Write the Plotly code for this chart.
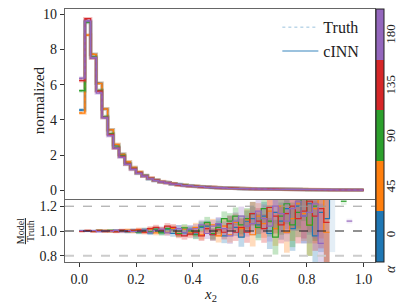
import plotly.graph_objects as go

# ---------------- data ----------------
bin_edges = [0.00, 0.02, 0.04, 0.06, 0.08, 0.10, 0.12, 0.14, 0.16, 0.18,
             0.20, 0.22, 0.24, 0.26, 0.28, 0.30, 0.32, 0.34, 0.36, 0.38,
             0.40, 0.42, 0.44, 0.46, 0.48, 0.50, 0.52, 0.54, 0.56, 0.58,
             0.60, 0.62, 0.64, 0.66, 0.68, 0.70, 0.72, 0.74, 0.76, 0.78,
             0.80, 0.82, 0.84, 0.86, 0.88, 0.90, 0.92, 0.94, 0.96, 0.98, 1.00]

alphas = [0, 45, 90, 135, 180]
alpha_labels = ["0", "45", "90", "135", "180"]

truth_0 = [4.55, 9.60, 7.70, 6.10, 4.60, 3.45, 2.55, 2.05, 1.60, 1.28,
           1.02, 0.83, 0.68, 0.57, 0.49, 0.43, 0.37, 0.32, 0.28, 0.25,
           0.22, 0.195, 0.175, 0.155, 0.140, 0.125, 0.112, 0.100, 0.090, 0.082,
           0.074, 0.067, 0.061, 0.055, 0.050, 0.046, 0.042, 0.038, 0.035, 0.032,
           0.029, 0.026, 0.024, 0.021, 0.019, 0.017, 0.015, 0.013, 0.012, 0.010]
truth_45 = [4.40, 8.80, 7.75, 6.05, 4.60, 3.45, 2.60, 2.05, 1.60, 1.30,
            1.03, 0.84, 0.68, 0.57, 0.49, 0.42, 0.37, 0.32, 0.28, 0.25,
            0.22, 0.196, 0.176, 0.156, 0.140, 0.126, 0.113, 0.101, 0.091, 0.082,
            0.075, 0.068, 0.061, 0.056, 0.051, 0.046, 0.042, 0.038, 0.034, 0.031,
            0.028, 0.026, 0.023, 0.021, 0.019, 0.017, 0.015, 0.013, 0.012, 0.010]
truth_90 = [5.65, 9.50, 7.60, 5.65, 4.20, 3.20, 2.45, 1.95, 1.50, 1.22,
            0.98, 0.81, 0.66, 0.55, 0.48, 0.42, 0.36, 0.32, 0.28, 0.25,
            0.22, 0.194, 0.174, 0.155, 0.139, 0.124, 0.111, 0.099, 0.089, 0.081,
            0.073, 0.066, 0.060, 0.055, 0.050, 0.045, 0.041, 0.037, 0.034, 0.031,
            0.028, 0.025, 0.023, 0.021, 0.019, 0.017, 0.015, 0.013, 0.011, 0.010]
truth_135 = [6.25, 9.70, 7.55, 5.60, 4.15, 3.15, 2.40, 1.90, 1.48, 1.20,
             0.97, 0.80, 0.66, 0.55, 0.47, 0.41, 0.36, 0.31, 0.27, 0.24,
             0.215, 0.192, 0.172, 0.153, 0.138, 0.124, 0.111, 0.099, 0.089, 0.080,
             0.073, 0.066, 0.060, 0.054, 0.049, 0.045, 0.041, 0.037, 0.034, 0.031,
             0.028, 0.025, 0.023, 0.021, 0.018, 0.016, 0.014, 0.013, 0.011, 0.010]
truth_180 = [6.35, 9.65, 7.50, 5.55, 4.10, 3.10, 2.38, 1.88, 1.46, 1.18,
             0.96, 0.79, 0.65, 0.54, 0.47, 0.41, 0.35, 0.31, 0.27, 0.24,
             0.214, 0.191, 0.171, 0.152, 0.137, 0.123, 0.110, 0.098, 0.088, 0.080,
             0.072, 0.065, 0.059, 0.054, 0.049, 0.044, 0.040, 0.037, 0.033, 0.030,
             0.027, 0.025, 0.022, 0.020, 0.018, 0.016, 0.014, 0.012, 0.011, 0.010]

ratio_0 = [1.002, 0.998, 1.003, 0.997, 1.004, 0.996, 1.005, 1.003, 0.995, 1.006,
           0.990, 1.008, 0.985, 1.012, 0.990, 1.015, 0.980, 1.020, 0.985, 1.010,
           0.975, 1.030, 1.040, 0.970, 1.050, 0.960, 1.060, 1.030, 0.950, 1.080,
           1.100, 1.050, 1.120, 0.980, 1.150, 1.080, 1.180, 1.020, 1.200, 1.120,
           1.220, 0.960, 1.150, 1.100, 1.300, None, None, None, None, None]
ratio_45 = [0.997, 1.003, 0.996, 1.004, 1.006, 0.995, 1.004, 0.996, 1.008, 0.994,
            1.012, 0.990, 1.015, 0.985, 1.010, 0.990, 1.020, 0.980, 1.015, 0.990,
            1.030, 0.970, 1.020, 1.050, 0.960, 1.040, 0.970, 1.070, 1.020, 1.090,
            0.970, 1.120, 1.060, 1.160, 1.020, 1.200, 0.990, 1.100, 1.220, 1.140,
            1.050, 1.180, 1.260, 0.990, None, None, None, None, None, None]
ratio_90 = [1.001, 1.004, 0.997, 1.005, 0.996, 1.006, 0.997, 1.004, 0.996, 1.003,
            0.990, 1.010, 0.995, 1.015, 0.985, 1.020, 1.010, 0.980, 1.025, 1.000,
            0.970, 1.040, 1.070, 0.980, 1.030, 1.100, 1.080, 1.120, 1.050, 1.100,
            1.140, 1.030, 1.180, 1.080, 0.950, 1.120, 1.220, 1.050, 1.150, 1.300,
            1.048, 1.200, None, None, None, None, 1.240, None, None, None]
ratio_135 = [0.996, 1.005, 0.994, 1.006, 0.995, 1.004, 0.993, 1.007, 0.996, 1.005,
             1.010, 0.990, 1.020, 1.030, 1.010, 1.040, 1.030, 0.970, 0.960, 0.975,
             0.990, 0.960, 1.020, 0.970, 1.010, 0.990, 1.060, 0.990, 1.030, 0.990,
             1.140, 1.080, 1.020, 1.190, 1.120, 1.050, 1.140, 1.200, 1.100, 1.160,
             1.240, 1.120, 1.180, 1.070, None, None, None, None, None, None]
ratio_180 = [1.003, 0.996, 1.004, 0.995, 1.003, 0.997, 1.005, 0.994, 1.004, 0.997,
             0.995, 1.010, 0.990, 1.005, 1.015, 0.985, 1.010, 1.020, 0.990, 1.015,
             1.020, 1.050, 0.980, 1.040, 1.060, 1.020, 0.960, 1.080, 1.120, 1.040,
             1.060, 1.160, 1.100, 1.040, 1.200, 1.140, 1.080, 1.180, 1.240, 1.120,
             1.150, 1.220, 0.900, None, None, None, None, 1.080, None, None]

ratio_err = [0.008, 0.006, 0.007, 0.008, 0.009, 0.010, 0.011, 0.012, 0.013, 0.014,
             0.015, 0.016, 0.018, 0.020, 0.022, 0.024, 0.026, 0.028, 0.030, 0.033,
             0.036, 0.040, 0.044, 0.048, 0.053, 0.058, 0.064, 0.070, 0.077, 0.085,
             0.095, 0.105, 0.115, 0.125, 0.140, 0.150, 0.165, 0.180, 0.200, 0.220,
             0.250, 0.280, 0.320, 0.360, 0.470, 0.500, 0.030, 0.020, 0.500, 0.500]

truths = [truth_0, truth_45, truth_90, truth_135, truth_180]
ratios = [ratio_0, ratio_45, ratio_90, ratio_135, ratio_180]

colors = ["#1f77b4", "#ff7f0e", "#2ca02c", "#d62728", "#9467bd"]
rgba = [(31, 119, 180), (255, 127, 14), (44, 160, 44), (214, 39, 40), (148, 103, 189)]


def step_xy(vals):
    xs, ys = [], []
    for i, v in enumerate(vals):
        if v is None:
            xs.append(None)
            ys.append(None)
            continue
        xs += [bin_edges[i], bin_edges[i + 1]]
        ys += [v, v]
    return xs, ys


fig = go.Figure()
FONT = "Liberation Serif"
TXT = "#222"

centers = [(bin_edges[i] + bin_edges[i + 1]) / 2 for i in range(len(bin_edges) - 1)]

for k in range(len(alphas)):
    r, g, b = rgba[k]
    tr = truths[k]
    ra = ratios[k]
    model = [t * q if q is not None else t for t, q in zip(tr, ra)]
    # top panel
    xs, ys = step_xy(model)
    fig.add_trace(go.Scatter(x=xs, y=ys, mode="lines", xaxis="x", yaxis="y",
                             line=dict(color=f"rgba({r},{g},{b},0.3)", width=3.5),
                             showlegend=False, hoverinfo="skip"))
    xs, ys = step_xy(tr)
    fig.add_trace(go.Scatter(x=xs, y=ys, mode="lines", xaxis="x", yaxis="y",
                             line=dict(color=colors[k], width=1, dash="dot"),
                             showlegend=False, hoverinfo="skip"))
    xs, ys = step_xy(model)
    fig.add_trace(go.Scatter(x=xs, y=ys, mode="lines", xaxis="x", yaxis="y",
                             line=dict(color=colors[k], width=1.3),
                             showlegend=False, hoverinfo="skip"))
    # ratio panel bands
    bx, bb, bh, bc = [], [], [], []
    for i, q in enumerate(ra):
        if q is None:
            continue
        bx.append(centers[i])
        bb.append(q - ratio_err[i])
        bh.append(2 * ratio_err[i])
        op = 0.28 if i < 44 else 0.12
        bc.append(f"rgba({r},{g},{b},{op})")
    fig.add_trace(go.Bar(x=bx, y=bh, base=bb, width=0.02, xaxis="x2", yaxis="y2",
                         marker=dict(color=bc, line=dict(width=0)),
                         showlegend=False, hoverinfo="skip"))
    xs, ys = step_xy(ra)
    fig.add_trace(go.Scatter(x=xs, y=ys, mode="lines", xaxis="x2", yaxis="y2",
                             line=dict(color=colors[k], width=1.2),
                             showlegend=False, hoverinfo="skip"))

# legend entries
fig.add_trace(go.Scatter(x=[None], y=[None], mode="lines", name="Truth",
                         line=dict(color="rgba(31,119,180,0.45)", width=1, dash="dot")))
fig.add_trace(go.Scatter(x=[None], y=[None], mode="lines", name="cINN",
                         line=dict(color="rgba(31,119,180,0.6)", width=1.5)))

# colorbar
n = len(alphas)
cscale = []
for k in range(n):
    cscale.append([k / n, colors[k]])
    cscale.append([(k + 1) / n, colors[k]])
fig.add_trace(go.Scatter(
    x=[0.5], y=[-20], mode="markers", xaxis="x", yaxis="y", showlegend=False,
    hoverinfo="skip",
    marker=dict(color=[alphas[0]], colorscale=cscale, cmin=-22.5, cmax=202.5,
                showscale=True, size=1,
                colorbar=dict(x=1.003, xanchor="left", y=0.5, yanchor="middle",
                              len=1, lenmode="fraction", thickness=8, xpad=0, ypad=0,
                              outlinewidth=1, outlinecolor="#222",
                              tickvals=alphas, showticklabels=False, ticks=""))))

axis_common = dict(showline=True, mirror=True, linecolor="#666", linewidth=1.3,
                   ticklen=4, tickcolor="#333", showgrid=False,
                   zeroline=False, automargin=False,
                   tickfont=dict(family=FONT, size=14, color=TXT))

annotations = [
    dict(text="normalized", xref="paper", yref="paper", x=-0.083, y=0.64,
         xanchor="center", yanchor="middle", textangle=-90, showarrow=False,
         font=dict(family=FONT, size=15, color=TXT)),
    dict(text="<i>x</i><sub>2</sub>", xref="paper", yref="paper", x=0.468, y=-0.13,
         xanchor="center", yanchor="middle", showarrow=False,
         font=dict(family=FONT, size=15, color=TXT)),
    dict(text="<u>Model</u>", xref="paper", yref="paper", x=-0.145, y=0.122,
         xanchor="center", yanchor="middle", textangle=-90, showarrow=False,
         font=dict(family=FONT, size=10, color=TXT)),
    dict(text="Truth", xref="paper", yref="paper", x=-0.113, y=0.122,
         xanchor="center", yanchor="middle", textangle=-90, showarrow=False,
         font=dict(family=FONT, size=10, color=TXT)),
    dict(text="<i>α</i>", xref="paper", yref="paper", x=1.05, y=-0.03,
         xanchor="center", yanchor="middle", textangle=-90, showarrow=False,
         font=dict(family=FONT, size=14, color=TXT)),
]
for k, lab in enumerate(alpha_labels):
    annotations.append(dict(text=lab, xref="paper", yref="paper", x=1.05,
                            y=(k + 0.5) / n + (0.012 if k == 0 else 0),
                            xanchor="center", yanchor="middle", textangle=-90,
                            showarrow=False, font=dict(family=FONT, size=13, color=TXT)))

fig.update_layout(
    width=407, height=305,
    margin=dict(l=65, r=32, t=9, b=43, autoexpand=False),
    paper_bgcolor="white", plot_bgcolor="white",
    barmode="overlay",
    font=dict(family=FONT, size=14, color=TXT),
    xaxis=dict(domain=[0, 1], range=[-0.05, 1.04], anchor="y", showticklabels=False,
               matches="x2", ticks="", **axis_common),
    yaxis=dict(domain=[0.249, 1], range=[-0.5, 10.3], tickvals=[0, 2, 4, 6, 8, 10],
               ticks="outside", **axis_common),
    xaxis2=dict(domain=[0, 1], range=[-0.05, 1.04], anchor="y2",
                tickvals=[0, 0.2, 0.4, 0.6, 0.8, 1.0],
                ticktext=["0.0", "0.2", "0.4", "0.6", "0.8", "1.0"],
                ticks="outside", **axis_common),
    yaxis2=dict(domain=[0, 0.245], range=[0.75, 1.25], tickvals=[0.8, 1.0, 1.2],
                ticktext=["0.8", "1.0", "1.2"], ticks="outside", **axis_common),
    legend=dict(x=0.685, y=0.995, xanchor="left", yanchor="top", bgcolor="rgba(0,0,0,0)",
                font=dict(family=FONT, size=16, color=TXT), tracegroupgap=0,
                itemwidth=36),
    shapes=[
        dict(type="line", xref="x2 domain", yref="y2", x0=0, x1=1, y0=1.2, y1=1.2,
             line=dict(color="#999", width=1, dash="dash"), layer="above"),
        dict(type="line", xref="x2 domain", yref="y2", x0=0, x1=1, y0=1.0, y1=1.0,
             line=dict(color="#222", width=1, dash="dash"), layer="above"),
        dict(type="line", xref="x2 domain", yref="y2", x0=0, x1=1, y0=0.8, y1=0.8,
             line=dict(color="#ccc", width=2, dash="dash"), layer="above"),
    ],
    annotations=annotations,
)

fig.write_html("out.html", config={"displayModeBar": False},
               post_script="document.body.style.margin='0';document.body.style.overflow='hidden';")
